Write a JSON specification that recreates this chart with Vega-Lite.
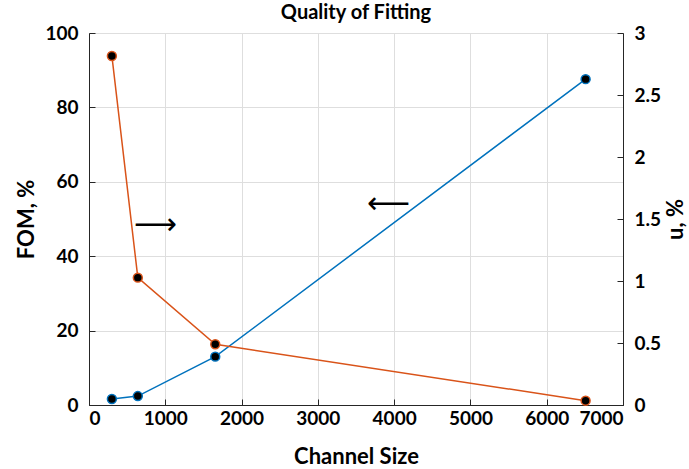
{
  "$schema": "https://vega.github.io/schema/vega-lite/v6.json",
  "autosize": {"type": "none"},
  "width": 534,
  "height": 372,
  "padding": {"left": 89, "top": 33, "right": 66, "bottom": 64},
  "background": "white",
  "title": {"text": "Quality of Fitting", "font": "Lato", "fontSize": 20, "fontWeight": "bold", "color": "#000000", "offset": 1},
  "config": {
    "view": {"stroke": "#262626", "strokeWidth": 1},
    "axis": {"labelFont": "Lato", "labelFontSize": 19, "labelFontWeight": "bold", "labelColor": "#000000", "titleFont": "Lato", "titleFontSize": 22, "titleFontWeight": "bold", "titleColor": "#000000", "domainColor": "#262626", "tickColor": "#262626", "gridColor": "#dedede"}
  },
  "datasets": {
    "fom": [
      {"size": 300, "fom": 1.6},
      {"size": 640, "fom": 2.4},
      {"size": 1655, "fom": 13},
      {"size": 6510, "fom": 87.6}
    ],
    "u": [
      {"size": 300, "u": 2.815},
      {"size": 640, "u": 1.027},
      {"size": 1655, "u": 0.49},
      {"size": 6510, "u": 0.035}
    ],
    "arrows": [
      {"x": 870, "y": 48.5, "t": "⟶"},
      {"x": 3930, "y": 54, "t": "⟵"}
    ]
  },
  "layer": [
    {
      "layer": [
        {
          "data": {"name": "fom"},
          "mark": {"type": "line", "color": "#0072BD", "strokeWidth": 1.5, "point": {"filled": true, "fill": "#000000", "stroke": "#0072BD", "strokeWidth": 1.5, "size": 80}},
          "encoding": {
            "x": {"field": "size", "type": "quantitative", "scale": {"domain": [0, 7000], "nice": false}, "axis": {"title": "Channel Size", "format": "d", "values": [0,1000,2000,3000,4000,5000,6000,7000], "tickSize": -6, "labelPadding": 10, "titlePadding": 18, "grid": true}},
            "y": {"field": "fom", "type": "quantitative", "scale": {"domain": [0, 100], "nice": false}, "axis": {"title": "FOM, %", "values": [0,20,40,60,80,100], "tickSize": -6, "labelPadding": 17, "titlePadding": 6, "grid": true}}
          }
        },
        {
          "data": {"name": "arrows"},
          "mark": {"type": "text", "font": "DejaVu Sans", "fontSize": 30, "color": "#000000", "align": "center", "baseline": "middle"},
          "encoding": {
            "x": {"field": "x", "type": "quantitative"},
            "y": {"field": "y", "type": "quantitative"},
            "text": {"field": "t"}
          }
        }
      ]
    },
    {
      "data": {"name": "u"},
      "mark": {"type": "line", "color": "#D95319", "strokeWidth": 1.5, "point": {"filled": true, "fill": "#000000", "stroke": "#D95319", "strokeWidth": 1.5, "size": 80}},
      "encoding": {
        "x": {"field": "size", "type": "quantitative"},
        "y": {"field": "u", "type": "quantitative", "scale": {"domain": [0, 3], "nice": false}, "axis": {"orient": "right", "title": "u, %", "format": "~g", "titleAngle": 270, "values": [0,0.5,1,1.5,2,2.5,3], "tickSize": -6, "labelPadding": 17, "titlePadding": 27, "grid": false}}
      }
    }
  ],
  "resolve": {"scale": {"y": "independent"}}
}
